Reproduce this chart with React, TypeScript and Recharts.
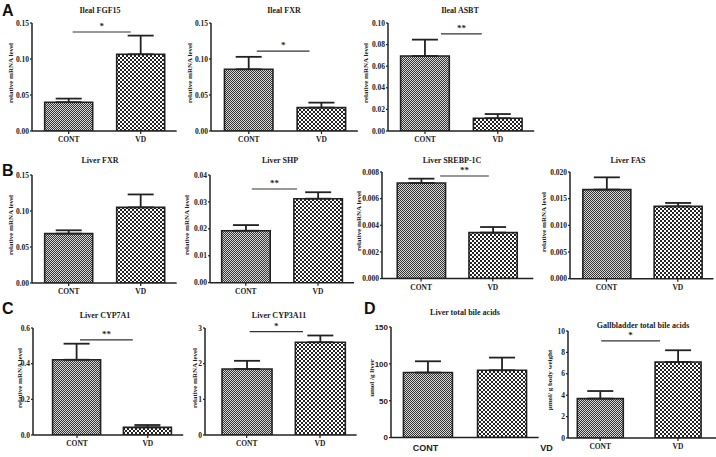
import React from 'react';
import { BarChart, Bar, XAxis, YAxis, ErrorBar, ReferenceLine, Cell } from 'recharts';

const groups = ['CONT', 'VD'];

// means and upper SEM
const ilealFgf15 = [0.040, 0.1065];
const ilealFgf15Err = [0.005, 0.026];
const ilealFxr = [0.0857, 0.0325];
const ilealFxrErr = [0.0173, 0.0069];
const ilealAsbt = [0.0694, 0.0118];
const ilealAsbtErr = [0.0152, 0.0039];
const liverFxr = [0.0686, 0.105];
const liverFxrErr = [0.0046, 0.018];
const liverShp = [0.0193, 0.0312];
const liverShpErr = [0.0021, 0.0024];
const liverSrebp = [0.00717, 0.00345];
const liverSrebpErr = [0.00033, 0.00042];
const liverFas = [0.0167, 0.01355];
const liverFasErr = [0.0023, 0.00065];
const liverCyp7a1 = [0.422, 0.043];
const liverCyp7a1Err = [0.09, 0.013];
const liverCyp3a11 = [1.85, 2.6];
const liverCyp3a11Err = [0.23, 0.19];
const liverBileAcids = [88.2, 91.3];
const liverBileAcidsErr = [15.3, 17.2];
const gbBileAcids = [3.68, 7.1];
const gbBileAcidsErr = [0.71, 1.1];

const SERIF = '"Liberation Serif", "DejaVu Serif", serif';
const SANS = '"Liberation Sans", Arial, sans-serif';
const INK = '#222';

type PanelProps = {
  id: string;
  title: string;
  titleX: number;
  titleY: number;
  ylabel: string;
  ylabelX: number;
  means: number[];
  errs: number[];
  ticks: number[];
  decimals: number;
  axisX: number;
  yTop: number;
  y0: number;
  c1: number;
  c2: number;
  xEnd: number;
  barW: number;
  sig?: number;
  mark?: string;
  inset?: [number, number];
  sansTicks?: boolean;
  labelShift?: number[];
  extraRight?: number;
};

const YW = 30;
const MT = 8;
const XH = 20;

function Panel(p: PanelProps) {
  const rows = groups.map((g, i) => ({ group: g, mean: p.means[i], err: [0, p.errs[i]] }));
  const band = p.c2 - p.c1;
  const padL = p.c1 - band / 2 - p.axisX;
  const rangeEnd = p.c2 + band / 2;
  const xEnd = Math.max(p.xEnd, rangeEnd);
  const padR = xEnd - rangeEnd;
  const plotW = xEnd - p.axisX;
  const mr = 3 + (p.extraRight || 0);
  const width = YW + plotW + mr;
  const height = MT + (p.y0 - p.yTop) + XH;
  const max = p.ticks[p.ticks.length - 1];
  const tickFont = p.sansTicks ? SANS : SERIF;

  const sigShape = (s: any) => {
    const ins = p.inset || [0, 0];
    const x1 = s.x1 + ins[0];
    const x2 = s.x2 - ins[1];
    const y = s.y1;
    return (
      <g>
        <line x1={x1} y1={y} x2={x2} y2={y} stroke="#333" strokeWidth={1.2} />
        <text x={(x1 + x2) / 2} y={y - 3} textAnchor="middle" fontSize={9} fontFamily={SERIF} fontWeight="bold" fill={INK}>
          {p.mark}
        </text>
      </g>
    );
  };

  const xTick = (t: any) => {
    const idx = t.payload?.index ?? t.index ?? 0;
    const shift = p.labelShift ? p.labelShift[idx] : 0;
    if (p.sansTicks) {
      return (
        <text x={t.x + shift} y={t.y + 11} textAnchor="middle" fontSize={9} fontFamily={SANS} fontWeight="bold" fill={INK}>
          {t.payload.value}
        </text>
      );
    }
    return (
      <text x={t.x + shift} y={t.y + 6} textAnchor="middle" fontSize={7.5} fontFamily={SERIF} fontWeight="bold" fill={INK}>
        {t.payload.value}
      </text>
    );
  };

  const yTick = (t: any) => (
    <text
      x={t.x}
      y={t.y}
      dy="0.35em"
      textAnchor="end"
      fontSize={p.sansTicks ? 8 : 7.5}
      fontFamily={tickFont}
      fontWeight="bold"
      fill={INK}
    >
      {Number(t.payload.value).toFixed(p.decimals)}
    </text>
  );

  const yc = (p.yTop + p.y0) / 2 - 4;

  return (
    <>
      <div
        style={{
          position: 'absolute',
          left: p.titleX,
          top: p.titleY,
          transform: 'translate(-50%,-50%)',
          whiteSpace: 'nowrap',
          font: `bold 8px ${SERIF}`,
          color: INK,
        }}
      >
        {p.title}
      </div>
      <div
        style={{
          position: 'absolute',
          left: p.ylabelX,
          top: yc,
          transform: 'translate(-50%,-50%) rotate(-90deg)',
          whiteSpace: 'nowrap',
          font: `bold 7px ${SERIF}`,
          color: INK,
        }}
      >
        {p.ylabel}
      </div>
      <div style={{ position: 'absolute', left: p.axisX - YW, top: p.yTop - MT }}>
        <BarChart width={width} height={height} data={rows} margin={{ top: MT, right: mr, left: 0, bottom: 0 }}>
          <defs>
            <pattern id={`cont-${p.id}`} width={2} height={2} patternUnits="userSpaceOnUse">
              <rect width={2} height={2} fill="#d8d8d8" />
              <rect x={0} y={0} width={1} height={1} fill="#333" />
              <rect x={1} y={1} width={1} height={1} fill="#333" />
            </pattern>
            <pattern id={`vd-${p.id}`} width={4} height={4} patternUnits="userSpaceOnUse">
              <rect width={4} height={4} fill="#fff" />
              <rect x={0} y={0} width={2} height={2} fill="#222" />
              <rect x={2} y={2} width={2} height={2} fill="#222" />
            </pattern>
          </defs>
          <XAxis
            dataKey="group"
            padding={{ left: padL, right: padR }}
            height={XH}
            tickSize={p.sansTicks ? 0 : 3}
            tickLine={!p.sansTicks ? { stroke: INK, strokeWidth: 1.2 } : false}
            axisLine={{ stroke: INK, strokeWidth: 1.5 }}
            tick={xTick}
            interval={0}
          />
          <YAxis
            domain={[0, max]}
            ticks={p.ticks}
            interval={0}
            width={YW}
            tickSize={2}
            tickMargin={1}
            tickLine={{ stroke: INK, strokeWidth: 1.2 }}
            axisLine={{ stroke: INK, strokeWidth: 1.5 }}
            tick={yTick}
            allowDataOverflow
          />
          <Bar dataKey="mean" barSize={p.barW} stroke={INK} strokeWidth={1.6} isAnimationActive={false}>
            {rows.map((r, i) => (
              <Cell key={r.group} fill={i === 0 ? `url(#cont-${p.id})` : `url(#vd-${p.id})`} />
            ))}
            <ErrorBar dataKey="err" width={13} stroke={INK} strokeWidth={1.8} direction="y" />
          </Bar>
          {p.sig !== undefined && (
            <ReferenceLine
              segment={[
                { x: 'CONT', y: p.sig },
                { x: 'VD', y: p.sig },
              ]}
              ifOverflow="visible"
              shape={sigShape}
            />
          )}
        </BarChart>
      </div>
    </>
  );
}

const letter = (ch: string, x: number, y: number) => (
  <div style={{ position: 'absolute', left: x, top: y, font: `bold 16px ${SANS}`, color: '#111', lineHeight: '16px' }}>
    {ch}
  </div>
);

const RML = 'relative mRNA level';

export default function App() {
  return (
    <div style={{ position: 'absolute', left: 0, top: 0, width: 716, height: 457, background: '#fff', overflow: 'hidden' }}>
      {letter('A', 2, 3)}
      {letter('B', 2, 163)}
      {letter('C', 2, 301)}
      {letter('D', 364, 301)}

      <Panel id="a1" title="Ileal FGF15" titleX={100} titleY={10} ylabel={RML} ylabelX={10.5}
        means={ilealFgf15} errs={ilealFgf15Err} ticks={[0, 0.05, 0.1, 0.15]} decimals={2}
        axisX={32.3} yTop={22.7} y0={130.7} c1={69} c2={141} xEnd={170} barW={48}
        sig={0.1375} mark="*" inset={[4, 10]} />
      <Panel id="a2" title="Ileal FXR" titleX={284} titleY={10} ylabel={RML} ylabelX={190}
        means={ilealFxr} errs={ilealFxrErr} ticks={[0, 0.05, 0.1, 0.15]} decimals={2}
        axisX={210.5} yTop={22.7} y0={130.7} c1={248.3} c2={321} xEnd={350} barW={48.5}
        sig={0.111} mark="*" inset={[8, 12]} />
      <Panel id="a3" title="Ileal ASBT" titleX={460} titleY={10} ylabel={RML} ylabelX={366}
        means={ilealAsbt} errs={ilealAsbtErr} ticks={[0, 0.02, 0.04, 0.06, 0.08, 0.1]} decimals={2}
        axisX={388} yTop={22.7} y0={130.7} c1={425} c2={497.8} xEnd={534} barW={48.7}
        sig={0.09} mark="**" inset={[16, 16]} />

      <Panel id="b1" title="Liver FXR" titleX={100} titleY={160} ylabel={RML} ylabelX={10.5}
        means={liverFxr} errs={liverFxrErr} ticks={[0, 0.05, 0.1, 0.15]} decimals={2}
        axisX={32.3} yTop={174.7} y0={282.7} c1={69} c2={141} xEnd={170} barW={48} />
      <Panel id="b2" title="Liver SHP" titleX={280} titleY={160} ylabel={RML} ylabelX={187}
        means={liverShp} errs={liverShpErr} ticks={[0, 0.01, 0.02, 0.03, 0.04]} decimals={2}
        axisX={210} yTop={175} y0={282.7} c1={245.8} c2={318} xEnd={350} barW={48.5}
        sig={0.0348} mark="**" inset={[6, 21]} />
      <Panel id="b3" title="Liver SREBP-1C" titleX={452} titleY={160} ylabel={RML} ylabelX={359}
        means={liverSrebp} errs={liverSrebpErr} ticks={[0, 0.002, 0.004, 0.006, 0.008]} decimals={3}
        axisX={381.7} yTop={171.7} y0={278.3} c1={420.8} c2={492.5} xEnd={533} barW={48.3}
        sig={0.0077} mark="**" inset={[19, 4]} />
      <Panel id="b4" title="Liver FAS" titleX={628} titleY={160} ylabel={RML} ylabelX={544}
        means={liverFas} errs={liverFasErr} ticks={[0, 0.005, 0.01, 0.015, 0.02]} decimals={3}
        axisX={570} yTop={172.3} y0={279} c1={606.5} c2={677.8} xEnd={712} barW={48} />

      <Panel id="c1" title="Liver CYP7A1" titleX={105} titleY={315} ylabel={RML} ylabelX={20}
        means={liverCyp7a1} errs={liverCyp7a1Err} ticks={[0, 0.2, 0.4, 0.6]} decimals={1}
        axisX={33} yTop={328.3} y0={435.3} c1={77} c2={147.8} xEnd={180} barW={48}
        sig={0.533} mark="**" inset={[3, 15]} />
      <Panel id="c2" title="Liver CYP3A11" titleX={279} titleY={315} ylabel={RML} ylabelX={195}
        means={liverCyp3a11} errs={liverCyp3a11Err} ticks={[0, 1, 2, 3]} decimals={0}
        axisX={205} yTop={328.3} y0={435.3} c1={246.7} c2={320} xEnd={355} barW={50}
        sig={2.9} mark="*" inset={[3, 17]} />

      <Panel id="d1" title="Liver total bile acids" titleX={465} titleY={312} ylabel="umol /g liver" ylabelX={372}
        means={liverBileAcids} errs={liverBileAcidsErr} ticks={[0, 50, 100, 150]} decimals={0}
        axisX={390.7} yTop={326.7} y0={437.3} c1={427.2} c2={501.3} xEnd={530} barW={49}
        sansTicks labelShift={[-2, 45]} extraRight={40} />
      <Panel id="d2" title="Gallbladder total bile acids" titleX={643} titleY={325} ylabel="μmol/ g body weight" ylabelX={550}
        means={gbBileAcids} errs={gbBileAcidsErr} ticks={[0, 2, 4, 6, 8, 10]} decimals={0}
        axisX={568.3} yTop={330.7} y0={437.7} c1={600.5} c2={678.3} xEnd={712} barW={46}
        sig={9.07} mark="*" inset={[1, 18]} />
    </div>
  );
}
